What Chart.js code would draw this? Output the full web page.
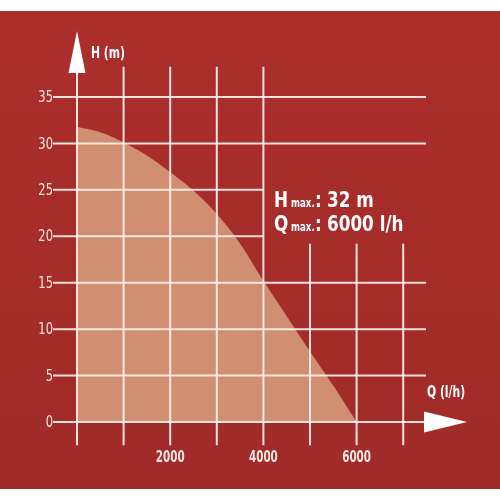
<!DOCTYPE html>
<html>
<head>
<meta charset="utf-8">
<script src="https://cdn.jsdelivr.net/npm/chart.js@4.4.1/dist/chart.umd.min.js"></script>
<style>
  html, body { margin: 0; padding: 0; background: #fff; }
  #wrap { width: 500px; height: 500px; }
</style>
</head>
<body>
<div id="wrap"><canvas id="pumpChart" width="500" height="500"></canvas></div>
<script>
// 데이터 (Q in l/h, H in m)
const flowValues = [0, 500, 1000, 1500, 2000, 2500, 3000, 3500, 4000, 4500, 5000, 5500, 6000];
const headValues = [31.8, 31.2, 30.1, 28.7, 26.9, 24.9, 22.4, 19.2, 15.2, 11.4, 7.6, 3.9, 0];

const xGridValues = [0, 1000, 2000, 3000, 4000, 5000, 6000, 7000];
const yGridValues = [0, 5, 10, 15, 20, 25, 30, 35];
const xTickValues = [2000, 4000, 6000];
const xTickLabels = ['2000', '4000', '6000'];
const yTickLabels = ['0', '5', '10', '15', '20', '25', '30', '35'];

const infoLines = [
  { big: 'H', small: 'max.', value: '32 m' },
  { big: 'Q', small: 'max.', value: '6000 l/h' }
];

const FONT = '"DejaVu Sans Condensed", "DejaVu Sans", sans-serif';
const LINE = 'rgba(250, 236, 230, 0.95)';

// 글자를 좁게 눌러서 그리기 (condensed look)
function narrowText(c, text, x, y, font, squeeze, align) {
  c.save();
  c.font = font;
  c.textAlign = align || 'left';
  c.translate(x, y);
  c.scale(squeeze, 1);
  c.fillText(text, 0, 0);
  c.restore();
}

// 배경, 격자, 화살표, 글자 그리기
const decorPlugin = {
  id: 'decor',
  beforeDraw(chart) {
    const c = chart.ctx;
    const g = c.createLinearGradient(0, 11, 0, 489);
    g.addColorStop(0, '#ab2e2b');
    g.addColorStop(1, '#a02b28');
    c.save();
    c.fillStyle = g;
    c.fillRect(0, 11, 500, 478);
    c.restore();
  },
  afterDatasetsDraw(chart) {
    const c = chart.ctx;
    const xs = chart.scales.x, ys = chart.scales.y;
    const gridTop = ys.getPixelForValue(38.25);
    const gridBottom = ys.getPixelForValue(-2.5);
    const gridLeft = xs.getPixelForValue(-515);
    const gridRight = xs.getPixelForValue(7490);
    const boxLeft = xs.getPixelForValue(4000);
    const boxBottom = ys.getPixelForValue(19.2);

    c.save();
    c.strokeStyle = LINE;
    c.lineWidth = 2;
    // vertical lines
    xGridValues.forEach(v => {
      const px = xs.getPixelForValue(v);
      let top = gridTop;
      if (v === 0) top = ys.getPixelForValue(37.6);
      if (v > 4000) top = boxBottom;
      c.beginPath();
      c.moveTo(px, top);
      c.lineTo(px, gridBottom);
      c.stroke();
    });
    // horizontal lines
    yGridValues.forEach(v => {
      const py = ys.getPixelForValue(v);
      let right = gridRight;
      if (py > ys.getPixelForValue(27) && py < boxBottom) right = boxLeft;
      c.beginPath();
      c.moveTo(gridLeft, py);
      c.lineTo(right, py);
      c.stroke();
    });

    // arrows
    c.fillStyle = '#ffffff';
    const ax = xs.getPixelForValue(0);
    c.beginPath();
    c.moveTo(ax, 31);
    c.lineTo(ax - 8.5, 73);
    c.lineTo(ax + 8.5, 73);
    c.closePath();
    c.fill();
    const ay = ys.getPixelForValue(0);
    c.beginPath();
    c.moveTo(467, ay);
    c.lineTo(424, ay - 10.5);
    c.lineTo(424, ay + 10.5);
    c.closePath();
    c.fill();

    // tick labels
    c.fillStyle = '#f5e6e1';
    c.textBaseline = 'middle';
    yGridValues.forEach((v, i) => {
      narrowText(c, yTickLabels[i], 53, ys.getPixelForValue(v) + 1, '16px ' + FONT, 0.8, 'right');
    });
    xTickValues.forEach((v, i) => {
      narrowText(c, xTickLabels[i], xs.getPixelForValue(v), 458, 'bold 16px ' + FONT, 0.72, 'center');
    });

    // axis titles
    c.fillStyle = '#ffffff';
    narrowText(c, 'H (m)', 91, 54, 'bold 15px ' + FONT, 0.8, 'left');
    narrowText(c, 'Q (l/h)', 427, 393, 'bold 15px ' + FONT, 0.8, 'left');

    // Hmax / Qmax
    c.textBaseline = 'alphabetic';
    const baselines = [207, 231];
    infoLines.forEach((ln, i) => {
      const y = baselines[i];
      narrowText(c, ln.big, 274, y, 'bold 22px ' + FONT, 0.85, 'left');
      narrowText(c, ln.small, 291, y, 'bold 12px ' + FONT, 0.8, 'left');
      narrowText(c, ':', 315, y, 'bold 22px ' + FONT, 0.85, 'left');
      narrowText(c, ln.value, 327, y, 'bold 22px ' + FONT, 0.85, 'left');
    });
    c.restore();
  }
};

const ctx = document.getElementById('pumpChart').getContext('2d');

const pumpChart = new Chart(ctx, {
  type: 'line',
  data: {
    datasets: [{
      label: 'H (m)',
      data: flowValues.map((q, i) => ({ x: q, y: headValues[i] })),
      fill: 'origin',
      backgroundColor: '#d18f71',
      borderWidth: 0,
      pointRadius: 0,
      tension: 0.4
    }]
  },
  options: {
    responsive: false,
    animation: false,
    layout: { padding: { left: 77, right: 500 - 403.2, top: 97, bottom: 78 } },
    plugins: { legend: { display: false }, tooltip: { enabled: false } },
    scales: {
      x: { type: 'linear', min: 0, max: 7000, display: false },
      y: { type: 'linear', min: 0, max: 35, display: false }
    }
  },
  plugins: [decorPlugin]
});
</script>
</body>
</html>
